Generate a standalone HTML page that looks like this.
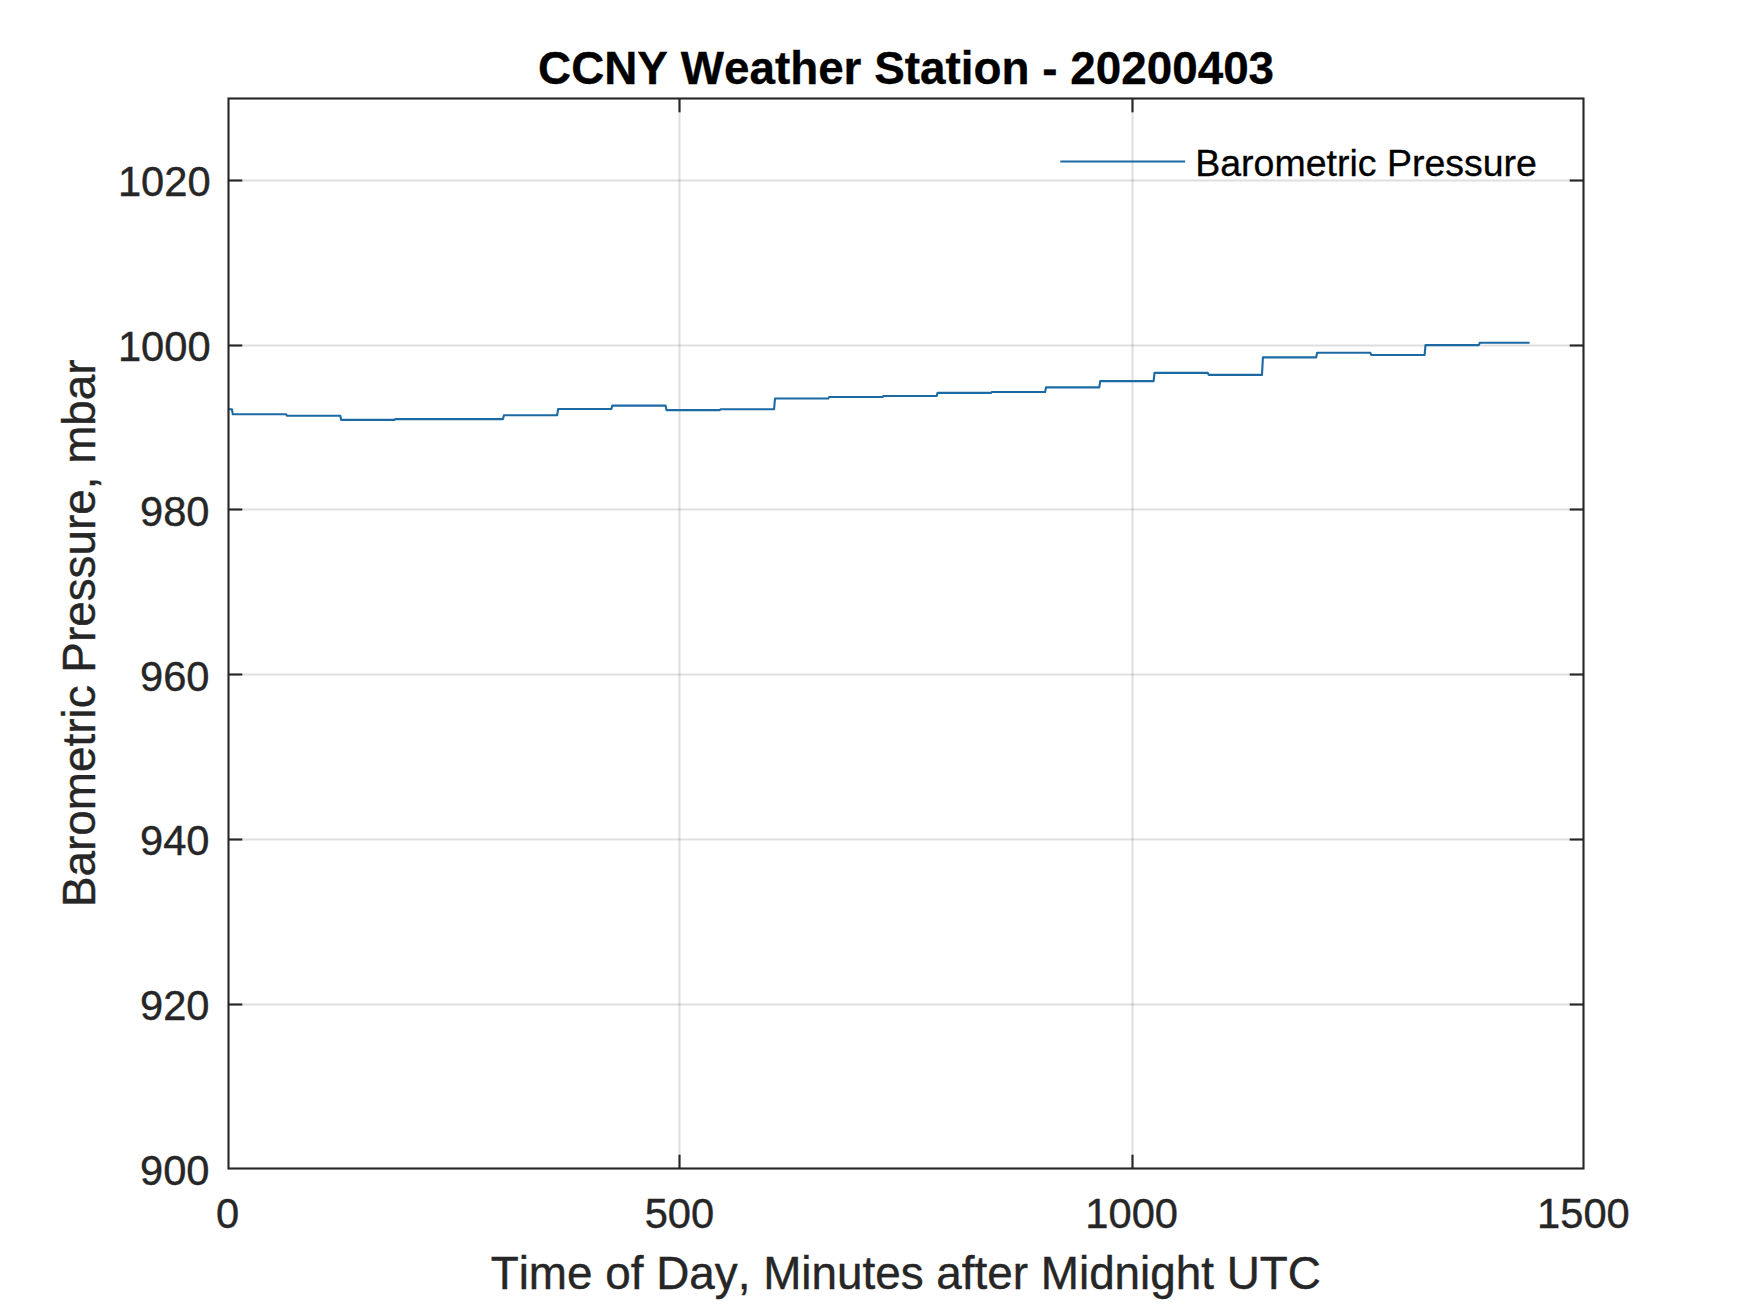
<!DOCTYPE html>
<html lang="en"><head><meta charset="utf-8"><title>CCNY Weather Station - 20200403</title>
<style>html,body{margin:0;padding:0;background:#fff;}body{width:1750px;height:1313px;overflow:hidden;}svg{display:block;}text{font-family:"Liberation Sans",Arial,Helvetica,sans-serif;font-kerning:none;font-variant-ligatures:none;}.tk{font-size:41.67px;fill:#262626;stroke:#262626;stroke-width:0.4px;}.lb{font-size:45.83px;fill:#262626;stroke:#262626;stroke-width:0.4px;}.tt{font-size:45.83px;font-weight:bold;fill:#000;stroke:#000;stroke-width:0.3px;}.lg{font-size:37.5px;fill:#000;stroke:#000;stroke-width:0.3px;}</style></head><body>
<svg width="1750" height="1313" viewBox="0 0 1750 1313">
<rect x="0" y="0" width="1750" height="1313" fill="#fff"/>
<g stroke="#262626" stroke-opacity="0.15" stroke-width="2.1" fill="none">
<line x1="679.5" y1="98.5" x2="679.5" y2="1168.5"/>
<line x1="1132.5" y1="98.5" x2="1132.5" y2="1168.5"/>
<line x1="228.5" y1="1004.5" x2="1583.5" y2="1004.5"/>
<line x1="228.5" y1="839.5" x2="1583.5" y2="839.5"/>
<line x1="228.5" y1="674.5" x2="1583.5" y2="674.5"/>
<line x1="228.5" y1="509.5" x2="1583.5" y2="509.5"/>
<line x1="228.5" y1="345.5" x2="1583.5" y2="345.5"/>
<line x1="228.5" y1="180.5" x2="1583.5" y2="180.5"/>
</g>
<path d="M228.5,409.2 L231.9,409.2 L232.8,414.2 L286.1,414.2 L287.0,415.8 L340.3,415.8 L341.2,419.9 L394.5,419.9 L395.4,419.1 L448.8,419.1 L449.7,419.1 L503.0,419.1 L503.9,415.2 L557.2,415.2 L558.1,409.0 L611.4,409.0 L612.3,405.6 L665.6,405.6 L666.5,410.1 L719.8,410.1 L720.7,409.2 L774.1,409.2 L775.0,398.5 L828.3,398.5 L829.2,397.0 L882.5,397.0 L883.4,396.0 L936.7,396.0 L937.6,392.9 L990.9,392.9 L991.8,392.0 L1045.1,392.0 L1046.0,387.4 L1099.3,387.4 L1100.2,381.1 L1153.6,381.1 L1154.5,372.9 L1207.8,372.9 L1208.7,374.9 L1262.0,374.9 L1262.9,357.4 L1316.2,357.4 L1317.1,352.8 L1370.4,352.8 L1371.3,355.0 L1424.6,355.0 L1425.5,345.1 L1478.8,345.1 L1479.7,342.8 L1529.6,342.8" fill="none" stroke="#1b6aa4" stroke-width="2.1" stroke-linejoin="round"/>
<line x1="1060.3" y1="161.5" x2="1185.2" y2="161.5" stroke="#1b6aa4" stroke-width="2.1"/>
<text class="lg" x="1195.2" y="176">Barometric Pressure</text>
<g stroke="#262626" stroke-width="2.1" fill="none">
<rect x="228.5" y="98.5" width="1355.0" height="1070.0"/>
<line x1="679.5" y1="1168.5" x2="679.5" y2="1154.7"/>
<line x1="679.5" y1="98.5" x2="679.5" y2="112.3"/>
<line x1="1132.5" y1="1168.5" x2="1132.5" y2="1154.7"/>
<line x1="1132.5" y1="98.5" x2="1132.5" y2="112.3"/>
<line x1="228.5" y1="1004.5" x2="242.3" y2="1004.5"/>
<line x1="1583.5" y1="1004.5" x2="1569.7" y2="1004.5"/>
<line x1="228.5" y1="839.5" x2="242.3" y2="839.5"/>
<line x1="1583.5" y1="839.5" x2="1569.7" y2="839.5"/>
<line x1="228.5" y1="674.5" x2="242.3" y2="674.5"/>
<line x1="1583.5" y1="674.5" x2="1569.7" y2="674.5"/>
<line x1="228.5" y1="509.5" x2="242.3" y2="509.5"/>
<line x1="1583.5" y1="509.5" x2="1569.7" y2="509.5"/>
<line x1="228.5" y1="345.5" x2="242.3" y2="345.5"/>
<line x1="1583.5" y1="345.5" x2="1569.7" y2="345.5"/>
<line x1="228.5" y1="180.5" x2="242.3" y2="180.5"/>
<line x1="1583.5" y1="180.5" x2="1569.7" y2="180.5"/>
</g>
<text class="tk" text-anchor="middle" x="227.55" y="1228">0</text>
<text class="tk" text-anchor="middle" x="679.4" y="1228">500</text>
<text class="tk" text-anchor="middle" x="1131.7" y="1228">1000</text>
<text class="tk" text-anchor="middle" x="1583.4" y="1228">1500</text>
<text class="tk" text-anchor="end" x="209.55" y="1185">900</text>
<text class="tk" text-anchor="end" x="209.55" y="1020">920</text>
<text class="tk" text-anchor="end" x="209.55" y="855">940</text>
<text class="tk" text-anchor="end" x="209.55" y="691">960</text>
<text class="tk" text-anchor="end" x="209.55" y="526">980</text>
<text class="tk" text-anchor="end" x="210.6" y="361">1000</text>
<text class="tk" text-anchor="end" x="210.6" y="196">1020</text>
<text class="lb" text-anchor="middle" x="905.8" y="1288.8">Time of Day, Minutes after Midnight UTC</text>
<text class="lb" text-anchor="middle" transform="translate(94.8,633.2) rotate(-90)">Barometric Pressure, mbar</text>
<text class="tt" text-anchor="middle" x="906.1" y="84">CCNY Weather Station - 20200403</text>
</svg></body></html>
